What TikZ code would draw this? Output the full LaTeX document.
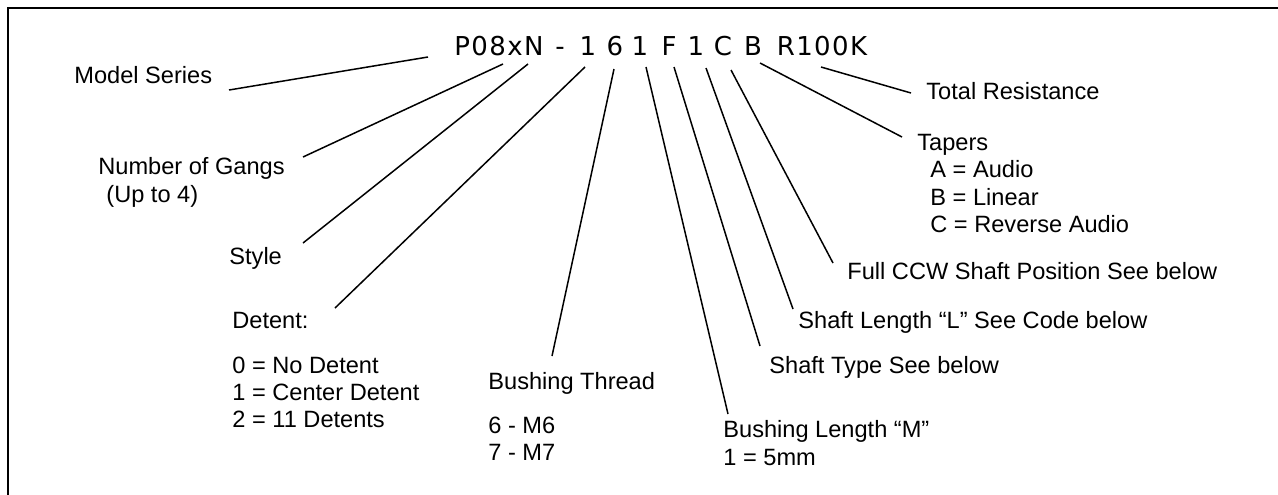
\documentclass[tikz,border=0pt]{standalone}
\usepackage{fontspec}
\setmainfont{Liberation Sans}
\newfontfamily\codefont[LetterSpace=5.5]{DejaVu Sans}
\begin{document}
\begin{tikzpicture}[x=0.5pt,y=-0.5pt,
  lbl/.style={anchor=base west,inner sep=0pt,font=\fontsize{11.8}{13.5}\selectfont},
  code/.style={anchor=base,inner sep=0pt,font=\codefont\fontsize{13}{15}\selectfont},
  lead/.style={line width=0.75pt}]
\useasboundingbox (0,0) rectangle (1278,494);
\draw [line width=1pt] (1280,8) -- (8,8) -- (8,496);

\node [code] (pre) at (499,55) {P08xN};
\node [code] (dash) at (560,55) {-};
\foreach \ch/\cx/\nm in {1/588/d1,6/615/d2,1/640/d3,F/669/d4,1/696/d5,C/723/d6,B/753/d7} {
\node [code] (\nm) at (\cx,55) {\ch};}
\node [code] (res) at (822,55) {R100K};

\node [lbl] (ms) at (74,83) {Model Series};
\node [lbl] (gangs) at (98,174) {Number of Gangs};
\node [lbl] (gangs2) at ([shift={(8,28)}]gangs.base west) {(Up to 4)};
\node [lbl] (sty) at (229,264) {Style};
\node [lbl] (det) at (232,328) {Detent:};
\node [lbl] (det0) at ([shift={(0,45)}]det.base west) {0 = No Detent};
\node [lbl] (det1) at ([shift={(0,72)}]det.base west) {1 = Center Detent};
\node [lbl] (det2) at ([shift={(0,99)}]det.base west) {2 = 11 Detents};
\node [lbl] (thr) at (488,389) {Bushing Thread};
\node [lbl] (thr6) at ([shift={(0,44)}]thr.base west) {6 - M6};
\node [lbl] (thr7) at ([shift={(0,71)}]thr.base west) {7 - M7};
\node [lbl] (blen) at (723,437) {Bushing Length “M”};
\node [lbl] (blen1) at ([shift={(0,28)}]blen.base west) {1 = 5mm};
\node [lbl] (stype) at (769,373) {Shaft Type See below};
\node [lbl] (slen) at (798,328) {Shaft Length “L” See Code below};
\node [lbl] (ccw) at (847,279) {Full CCW Shaft Position See below};
\node [lbl] (tap) at (917,150) {Tapers};
\node [lbl] (tapA) at ([shift={(13,27)}]tap.base west) {A = Audio};
\node [lbl] (tapB) at ([shift={(13,55)}]tap.base west) {B = Linear};
\node [lbl] (tapC) at ([shift={(13,82)}]tap.base west) {C = Reverse Audio};
\node [lbl] (tot) at (926,99) {Total Resistance};

\foreach \a/\sa/\b/\sb in {ms/{155,7}/pre/{-71,2},gangs/{205,-17}/pre/{4,9},
  sty/{74,-21}/pre/{29,9},det/{103,-20}/d1/{-3,12},thr/{64,-33}/d2/{-1,14},
  blen/{5,-23}/d3/{6,12},stype/{-9,-27}/d4/{5,12},slen/{-5,-19}/d5/{10,13},
  ccw/{-14,-16}/d6/{8,15},tap/{-15,-13}/d7/{7,8},tot/{-15,-6}/res/{-1,12}} {
\draw [lead] ([shift={(\sa)}]\a.base west) -- ([shift={(\sb)}]\b.base);}
\end{tikzpicture}
\end{document}
